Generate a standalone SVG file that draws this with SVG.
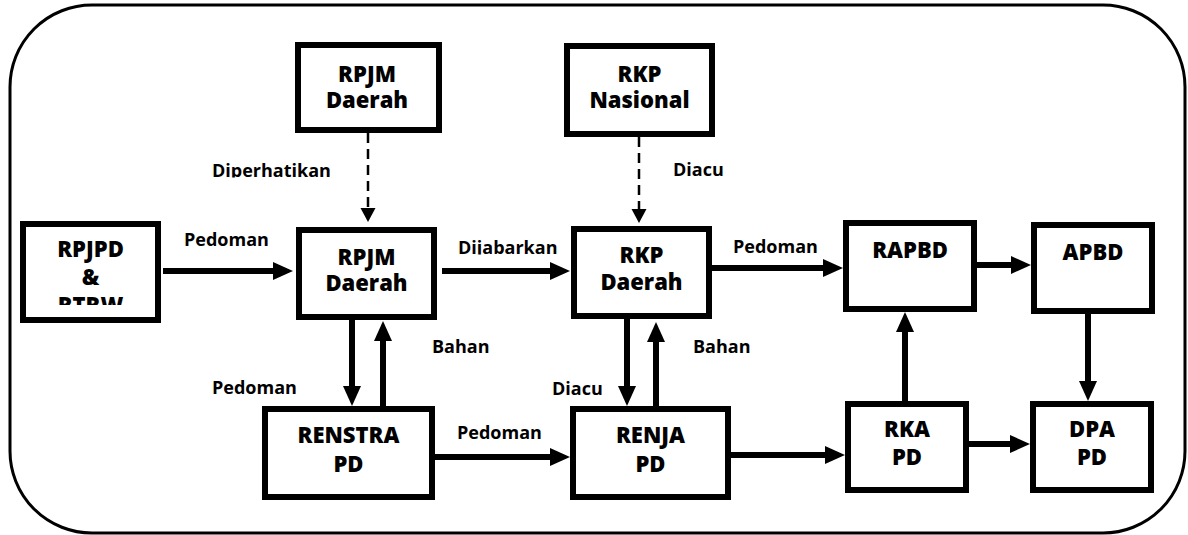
<svg xmlns="http://www.w3.org/2000/svg" width="1188" height="535" viewBox="0 0 1188 535">
<style>
.box{fill:#fff;stroke:#000;stroke-width:6}
.nt{font-family:"Open Sans","Liberation Sans",sans-serif;font-weight:800;font-size:22px;fill:#000;text-anchor:middle}
.lb{font-family:"Open Sans","Liberation Sans",sans-serif;font-weight:700;font-size:18px;fill:#000}
.c{fill:none;stroke:#000;stroke-width:6;marker-end:url(#ah)}
.d{fill:none;stroke:#000;stroke-width:2.5;stroke-dasharray:10 6;marker-end:url(#ahs)}
</style>
<defs>
<marker id="ah" markerUnits="userSpaceOnUse" markerWidth="20" markerHeight="18" refX="0" refY="9" orient="auto" overflow="visible"><path d="M0,0 L20,9 L0,18 z" fill="#000"/></marker>
<marker id="ahs" markerUnits="userSpaceOnUse" markerWidth="14" markerHeight="15" refX="0" refY="7.5" orient="auto" overflow="visible"><path d="M0,0 L14,7.5 L0,15 z" fill="#000"/></marker>
<clipPath id="clipRtrw"><rect x="20" y="200" width="150" height="105"/></clipPath>
<clipPath id="clipDip"><rect x="200" y="150" width="140" height="27.5"/></clipPath>
<clipPath id="clipDij"><rect x="450" y="230" width="110" height="24.5"/></clipPath>
<clipPath id="clipPed"><rect x="200" y="370" width="110" height="24.3"/></clipPath>
</defs>
<rect x="10" y="5" width="1175" height="528" rx="82" ry="82" fill="none" stroke="#000" stroke-width="3"/>
<g id="connectors">
<path class="d" d="M368,133 V208"/>
<path class="d" d="M639,137 V209"/>
<path class="c" d="M163,271 H273"/>
<path class="c" d="M442,271 H550"/>
<path class="c" d="M712,268 H823"/>
<path class="c" d="M977,265 H1011"/>
<path class="c" d="M1088,314 V381"/>
<path class="c" d="M905,401 V332"/>
<path class="c" d="M969,444 H1010"/>
<path class="c" d="M731,455 H825"/>
<path class="c" d="M435,457 H550"/>
<path class="c" d="M352,320 V386"/>
<path class="c" d="M383,406 V341"/>
<path class="c" d="M627,319 V386"/>
<path class="c" d="M656,406 V342"/>
<text class="lb" x="212" y="177" clip-path="url(#clipDip)">Diperhatikan</text>
<text class="lb" x="673" y="176">Diacu</text>
<text class="lb" x="184" y="246">Pedoman</text>
<text class="lb" x="458" y="254" clip-path="url(#clipDij)">Dijabarkan</text>
<text class="lb" x="733" y="253">Pedoman</text>
<text class="lb" x="432" y="353">Bahan</text>
<text class="lb" x="693" y="353">Bahan</text>
<text class="lb" x="212" y="394" clip-path="url(#clipPed)">Pedoman</text>
<text class="lb" x="552" y="395">Diacu</text>
<text class="lb" x="457" y="439">Pedoman</text>
</g>
<g id="rpjm-daerah-top">
<rect class="box" x="298" y="45" width="141" height="85"/>
<text class="nt" x="367" y="82">RPJM</text>
<text class="nt" x="367" y="108">Daerah</text>
</g>
<g id="rkp-nasional">
<rect class="box" x="567" y="46" width="145" height="88"/>
<text class="nt" x="639.5" y="82">RKP</text>
<text class="nt" x="639.5" y="108">Nasional</text>
</g>
<g id="rpjpd-rtrw">
<rect class="box" x="23" y="224" width="135" height="96"/>
<text class="nt" x="90.5" y="257">RPJPD</text>
<text class="nt" x="90.5" y="285">&amp;</text>
<text class="nt" x="90.5" y="313" clip-path="url(#clipRtrw)">RTRW</text>
</g>
<g id="rpjm-daerah">
<rect class="box" x="299" y="230" width="135" height="87"/>
<text class="nt" x="366.5" y="265">RPJM</text>
<text class="nt" x="366.5" y="291">Daerah</text>
</g>
<g id="rkp-daerah">
<rect class="box" x="574" y="229" width="135" height="87"/>
<text class="nt" x="641.5" y="263">RKP</text>
<text class="nt" x="641.5" y="290">Daerah</text>
</g>
<g id="renstra-pd">
<rect class="box" x="265" y="409" width="167" height="88"/>
<text class="nt" x="348.5" y="443">RENSTRA</text>
<text class="nt" x="348.5" y="472">PD</text>
</g>
<g id="renja-pd">
<rect class="box" x="573" y="409" width="155" height="88"/>
<text class="nt" x="650.5" y="443">RENJA</text>
<text class="nt" x="650.5" y="472">PD</text>
</g>
<g id="rapbd">
<rect class="box" x="846" y="223" width="128" height="86"/>
<text class="nt" x="910" y="258">RAPBD</text>
</g>
<g id="apbd">
<rect class="box" x="1034" y="225" width="118" height="86"/>
<text class="nt" x="1093" y="260">APBD</text>
</g>
<g id="rka-pd">
<rect class="box" x="848" y="404" width="118" height="86"/>
<text class="nt" x="907" y="437">RKA</text>
<text class="nt" x="907" y="465">PD</text>
</g>
<g id="dpa-pd">
<rect class="box" x="1033" y="404" width="118" height="86"/>
<text class="nt" x="1092" y="437">DPA</text>
<text class="nt" x="1092" y="465">PD</text>
</g>
</svg>
